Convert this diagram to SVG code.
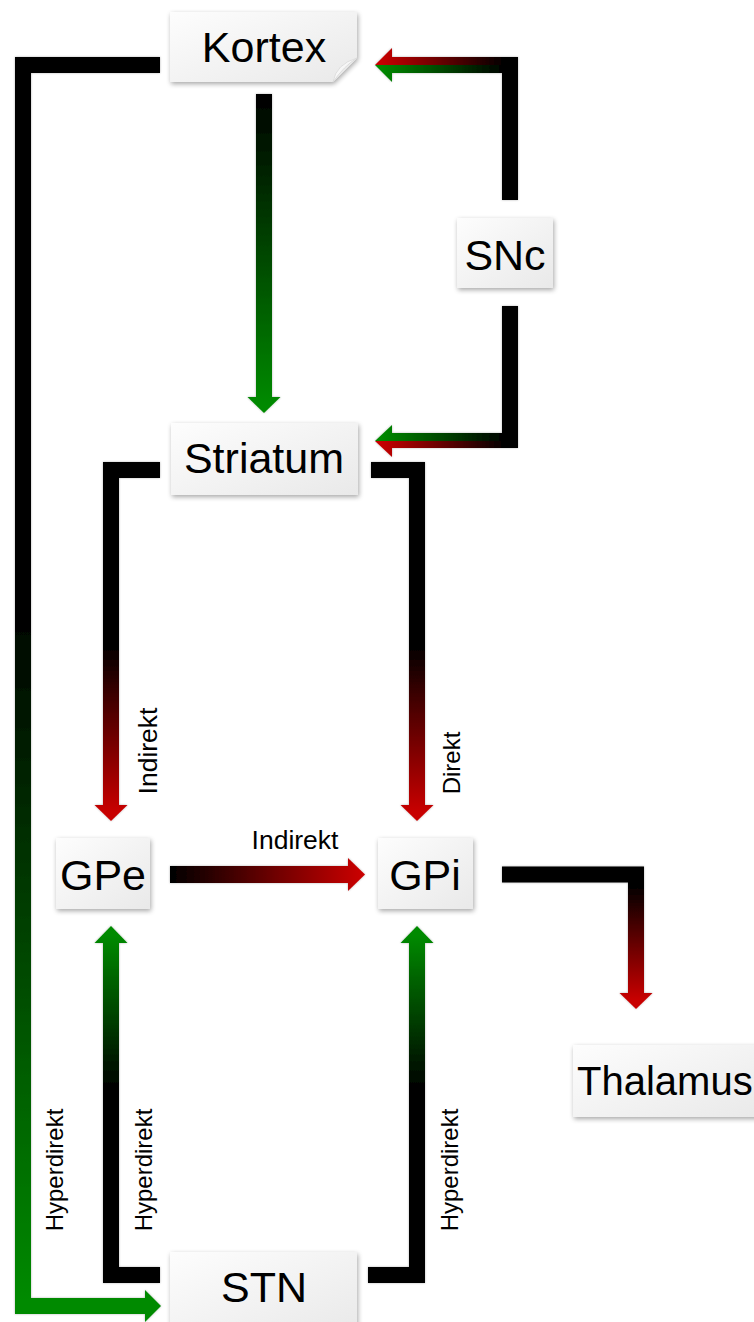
<svg xmlns="http://www.w3.org/2000/svg" width="754" height="1322" viewBox="0 0 754 1322">
<style>
.box{fill:url(#boxg);filter:url(#sh);}
.nt{font-family:"Liberation Sans",Arial,sans-serif;font-size:43px;fill:#000;text-anchor:middle;}
.lt{font-family:"Liberation Sans",Arial,sans-serif;font-size:24px;fill:#000;text-anchor:middle;}
.li{font-size:26.5px;}
.ln{fill:none;stroke-width:16;stroke-linejoin:miter;stroke-linecap:butt;}
</style>
<defs>
<linearGradient id="boxg" x1="0" y1="0" x2="1" y2="1">
<stop offset="0" stop-color="#fdfdfd"/><stop offset="1" stop-color="#e9e9e9"/>
</linearGradient>
<filter id="sh" x="-20%" y="-20%" width="140%" height="150%">
<feGaussianBlur in="SourceAlpha" stdDeviation="2.5"/>
<feOffset dx="1" dy="2" result="b"/>
<feComponentTransfer><feFuncA type="linear" slope="0.35"/></feComponentTransfer>
<feMerge><feMergeNode/><feMergeNode in="SourceGraphic"/></feMerge>
</filter>
<filter id="lsh" x="-20%" y="-20%" width="140%" height="140%">
<feGaussianBlur in="SourceAlpha" stdDeviation="1"/>
<feComponentTransfer><feFuncA type="linear" slope="0.3"/></feComponentTransfer>
<feMerge><feMergeNode/><feMergeNode in="SourceGraphic"/></feMerge>
</filter>
<linearGradient id="gLeft" gradientUnits="userSpaceOnUse" x1="0" y1="600" x2="0" y2="1300">
<stop offset="0" stop-color="#000"/><stop offset="1" stop-color="#008a00"/>
</linearGradient>
<linearGradient id="gKS" gradientUnits="userSpaceOnUse" x1="0" y1="94" x2="0" y2="405">
<stop offset="0" stop-color="#000"/><stop offset="1" stop-color="#008a00"/>
</linearGradient>
<linearGradient id="gSR" gradientUnits="userSpaceOnUse" x1="0" y1="645" x2="0" y2="812">
<stop offset="0" stop-color="#000"/><stop offset="1" stop-color="#c80000"/>
</linearGradient>
<linearGradient id="gGG" gradientUnits="userSpaceOnUse" x1="170" y1="0" x2="360" y2="0">
<stop offset="0" stop-color="#000"/><stop offset="1" stop-color="#c80000"/>
</linearGradient>
<linearGradient id="gTh" gradientUnits="userSpaceOnUse" x1="0" y1="885" x2="0" y2="1000">
<stop offset="0" stop-color="#000"/><stop offset="1" stop-color="#c80000"/>
</linearGradient>
<linearGradient id="gUp" gradientUnits="userSpaceOnUse" x1="0" y1="1090" x2="0" y2="935">
<stop offset="0" stop-color="#000"/><stop offset="1" stop-color="#008a00"/>
</linearGradient>
<linearGradient id="gHR" gradientUnits="userSpaceOnUse" x1="505" y1="0" x2="380" y2="0">
<stop offset="0" stop-color="#000"/><stop offset="1" stop-color="#c80000"/>
</linearGradient>
<linearGradient id="gHG" gradientUnits="userSpaceOnUse" x1="505" y1="0" x2="380" y2="0">
<stop offset="0" stop-color="#000"/><stop offset="1" stop-color="#008a00"/>
</linearGradient>
</defs>
<rect width="754" height="1322" fill="#fff"/>

<g id="connectors" filter="url(#lsh)">
<!-- Kortex -> STN (hyperdirect) -->
<path class="ln" stroke="url(#gLeft)" d="M160,65 H23 V1306 H145"/>
<polygon fill="url(#gLeft)" points="145,1290 145,1322 161,1306"/>
<!-- Kortex -> Striatum -->
<rect x="256" y="94" width="16" height="304" fill="url(#gKS)"/>
<polygon fill="url(#gKS)" points="247.5,397 280.5,397 264,413"/>
<!-- SNc -> Kortex -->
<rect x="502" y="57" width="16" height="143" fill="#000"/>
<polygon fill="url(#gHR)" points="392,57 518,57 518,65 392,65"/>
<polygon fill="url(#gHR)" points="392,48 392,65 375,65"/>
<polygon fill="url(#gHG)" points="392,65 518,65 518,73 392,73"/>
<polygon fill="url(#gHG)" points="375,65 392,65 392,82"/>
<!-- SNc -> Striatum -->
<rect x="502" y="306" width="16" height="142" fill="#000"/>
<polygon fill="url(#gHG)" points="392,433 518,433 518,441 392,441"/>
<polygon fill="url(#gHG)" points="392,425 392,441 375,441"/>
<polygon fill="url(#gHR)" points="392,441 518,441 518,448 392,448"/>
<polygon fill="url(#gHR)" points="375,441 392,441 392,457"/>
<!-- Striatum -> GPe (indirect) -->
<path class="ln" stroke="url(#gSR)" d="M160,470 H111 V806"/>
<polygon fill="url(#gSR)" points="94.5,805 127.5,805 111,821"/>
<!-- Striatum -> GPi (direct) -->
<path class="ln" stroke="url(#gSR)" d="M371,470 H417 V806"/>
<polygon fill="url(#gSR)" points="400.5,805 433.5,805 417,821"/>
<!-- GPe -> GPi -->
<rect x="170" y="866" width="179" height="17" fill="url(#gGG)"/>
<polygon fill="url(#gGG)" points="348,858 348,891 365,874.5"/>
<!-- GPi -> Thalamus -->
<path class="ln" stroke="url(#gTh)" d="M502,874.5 H636 V994"/>
<polygon fill="url(#gTh)" points="619.5,993 652.5,993 636,1009"/>
<!-- STN -> GPe -->
<path class="ln" stroke="url(#gUp)" d="M160,1275 H111 V942"/>
<polygon fill="url(#gUp)" points="94.5,943 127.5,943 111,926"/>
<!-- STN -> GPi -->
<path class="ln" stroke="url(#gUp)" d="M368,1275 H417 V942"/>
<polygon fill="url(#gUp)" points="400.5,943 433.5,943 417,926"/>
</g>

<g id="labels">
<text class="lt li" transform="translate(157,751) rotate(-90)">Indirekt</text>
<text class="lt" transform="translate(460,763) rotate(-90)">Direkt</text>
<text class="lt li" x="295" y="849">Indirekt</text>
<text class="lt" transform="translate(63,1170) rotate(-90)">Hyperdirekt</text>
<text class="lt" transform="translate(152,1170) rotate(-90)">Hyperdirekt</text>
<text class="lt" transform="translate(458,1170) rotate(-90)">Hyperdirekt</text>
</g>

<g id="Kortex">
<path class="box" d="M170,12 H357 V58 L333,82 H170 Z"/>
<path d="M333,82 Q336,64 357,58 Q344,66 333,82 Z" fill="#f7f7f7" stroke="#d8d8d8" stroke-width="0.8"/>
<text class="nt" x="264" y="62">Kortex</text>
</g>
<g id="SNc">
<rect class="box" x="457" y="218" width="96" height="70"/>
<text class="nt" x="505" y="270">SNc</text>
</g>
<g id="Striatum">
<rect class="box" x="171" y="423" width="187" height="72"/>
<text class="nt" x="264" y="473">Striatum</text>
</g>
<g id="GPe">
<rect class="box" x="56" y="838" width="94" height="71"/>
<text class="nt" x="103" y="890">GPe</text>
</g>
<g id="GPi">
<rect class="box" x="378" y="838" width="95" height="71"/>
<text class="nt" x="425" y="890">GPi</text>
</g>
<g id="Thalamus">
<rect class="box" x="573" y="1045" width="190" height="72"/>
<text class="nt" x="577" y="1095" style="text-anchor:start;font-size:40px">Thalamus</text>
</g>
<g id="STN">
<rect class="box" x="170" y="1252" width="187" height="80"/>
<text class="nt" x="264" y="1302">STN</text>
</g>
</svg>
